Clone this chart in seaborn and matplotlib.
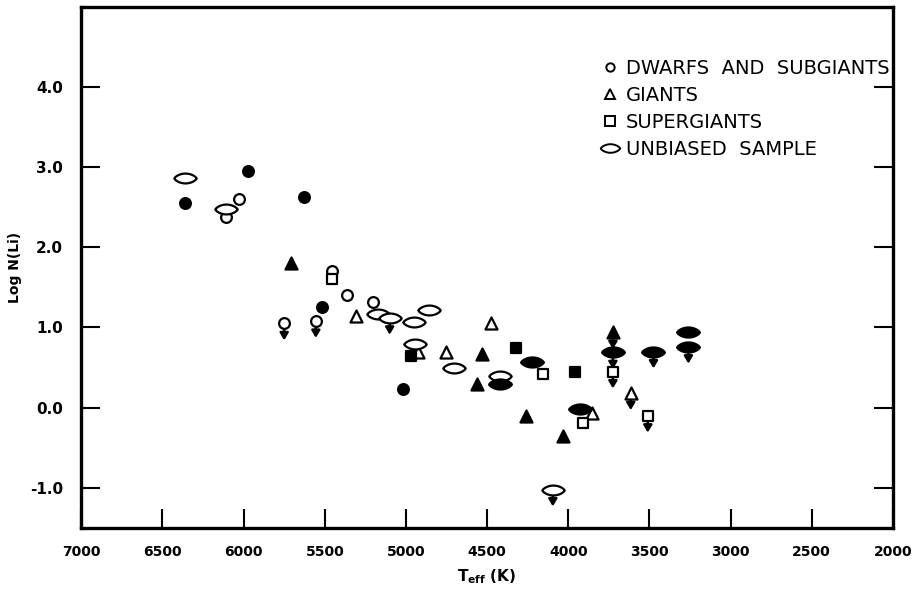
import matplotlib
matplotlib.use("Agg")
import matplotlib.pyplot as plt
import seaborn as sns
import numpy as np
from matplotlib.path import Path
from matplotlib.markers import MarkerStyle
from matplotlib.lines import Line2D

# --- data (Teff in K, log N(Li)); lim = upper limit (arrow) ---
dwarf_open_T = [6030, 6110, 5455, 5360, 5200, 5750, 5555]
dwarf_open_L = [2.60, 2.38, 1.70, 1.40, 1.32, 1.05, 1.08]
dwarf_open_lim = [0, 0, 0, 0, 0, 1, 1]

dwarf_fill_T = [6360, 5975, 5625, 5520, 5015]
dwarf_fill_L = [2.55, 2.95, 2.62, 1.25, 0.23]
dwarf_fill_lim = [0, 0, 0, 0, 0]

giant_open_T = [5305, 4475, 4925, 4755, 3855, 3615]
giant_open_L = [1.14, 1.05, 0.70, 0.69, -0.07, 0.18]
giant_open_lim = [0, 0, 0, 0, 0, 1]

giant_fill_T = [5710, 4530, 4565, 4260, 4030, 3725]
giant_fill_L = [1.80, 0.67, 0.30, -0.10, -0.35, 0.94]
giant_fill_lim = [0, 0, 0, 0, 0, 1]

super_open_T = [5455, 4155, 3910, 3725, 3510]
super_open_L = [1.60, 0.42, -0.19, 0.45, -0.10]
super_open_lim = [0, 0, 0, 1, 1]

super_fill_T = [4970, 4320, 3960]
super_fill_L = [0.64, 0.74, 0.44]
super_fill_lim = [0, 0, 0]

unb_open_T = [6360, 6110, 5170, 5100, 4855, 4950, 4945, 4705, 4420, 4095]
unb_open_L = [2.86, 2.48, 1.17, 1.12, 1.22, 1.07, 0.80, 0.50, 0.40, -1.02]
unb_open_lim = [0, 0, 0, 1, 0, 0, 0, 0, 0, 1]

unb_fill_T = [4420, 4225, 3930, 3725, 3475, 3260, 3260]
unb_fill_L = [0.30, 0.57, -0.01, 0.69, 0.70, 0.94, 0.76]
unb_fill_lim = [0, 0, 0, 1, 1, 0, 1]

legend_labels = ["DWARFS  AND  SUBGIANTS", "GIANTS", "SUPERGIANTS", "UNBIASED  SAMPLE"]
x_ticks = [7000, 6500, 6000, 5500, 5000, 4500, 4000, 3500, 3000, 2500, 2000]
y_ticks = [-1.0, 0.0, 1.0, 2.0, 3.0, 4.0]
y_ticklabels = ["-1.0", "0.0", "1.0", "2.0", "3.0", "4.0"]

# lens shaped marker for the "unbiased sample"
xs = np.linspace(-1, 1, 41)
yy = 0.44 * (1 - xs ** 2) ** 0.75
top = np.column_stack([xs, yy])
bot = np.column_stack([xs[::-1], -yy[::-1]])
lens = MarkerStyle(Path(np.vstack([top, bot, top[:1]]), closed=True))

sns.set_style("ticks")
plt.rcParams["font.family"] = ["DejaVu Sans"]
plt.rcParams["text.color"] = "black"
plt.rcParams["axes.labelcolor"] = "black"
plt.rcParams["xtick.color"] = "black"
plt.rcParams["ytick.color"] = "black"
plt.rcParams["axes.edgecolor"] = "black"

fig = plt.figure(figsize=(9.13, 5.92), dpi=100)
ax = fig.add_axes([0.089, 0.108, 0.889, 0.881])

groups = [
    (dwarf_open_T, dwarf_open_L, dwarf_open_lim, "o", 60, False),
    (dwarf_fill_T, dwarf_fill_L, dwarf_fill_lim, "o", 60, True),
    (giant_open_T, giant_open_L, giant_open_lim, "^", 75, False),
    (giant_fill_T, giant_fill_L, giant_fill_lim, "^", 75, True),
    (super_open_T, super_open_L, super_open_lim, "s", 62, False),
    (super_fill_T, super_fill_L, super_fill_lim, "s", 62, True),
    (unb_open_T, unb_open_L, unb_open_lim, lens, 260, False),
    (unb_fill_T, unb_fill_L, unb_fill_lim, lens, 270, True),
]

for T, L, lim, mk, size, filled in groups:
    # upper limit arrows
    for t, l, f in zip(T, L, lim):
        if f:
            ax.annotate("", xy=(t, l - 0.21), xytext=(t, l),
                        arrowprops=dict(arrowstyle="-|>,head_length=0.42,head_width=0.25",
                                        color="black", lw=1.8, shrinkA=0, shrinkB=0),
                        zorder=2)
    sns.scatterplot(x=T, y=L, marker=mk, s=size, ax=ax,
                    color="black" if filled else "white",
                    edgecolor="black", linewidth=1.6, zorder=3)

ax.set_xlim(7000, 2000)
ax.set_ylim(-1.5, 5.0)
ax.set_xticks(x_ticks)
ax.set_xticklabels([str(v) for v in x_ticks], fontweight="bold")
ax.set_yticks(y_ticks)
ax.set_yticklabels(y_ticklabels, fontweight="bold")
ax.tick_params(direction="in", length=14, width=1.5, right=True, pad=13)
ax.tick_params(axis="x", pad=12, labelsize=10)
ax.tick_params(axis="y", labelsize=11)
for sp in ax.spines.values():
    sp.set_linewidth(2.4)
    sp.set_visible(True)

ax.set_ylabel("Log N(Li)", fontsize=10, fontweight="bold", labelpad=6)
ax.set_xlabel(r"$\mathregular{T_{eff}}$ (K)", fontsize=11, fontweight="bold", labelpad=6)

handles = [
    Line2D([], [], ls="", marker="o", ms=6, mfc="white", mec="black", mew=1.4),
    Line2D([], [], ls="", marker="^", ms=7, mfc="white", mec="black", mew=1.4),
    Line2D([], [], ls="", marker="s", ms=7, mfc="white", mec="black", mew=1.4),
    Line2D([], [], ls="", marker=lens, ms=14, mfc="white", mec="black", mew=1.4),
]
ax.legend(handles, legend_labels, loc="upper right", bbox_to_anchor=(1.005, 0.915),
          frameon=False, fontsize=14, handlelength=0.9, handletextpad=0.35,
          labelspacing=0.42, borderaxespad=0)

fig.savefig("out.png", dpi=100)
